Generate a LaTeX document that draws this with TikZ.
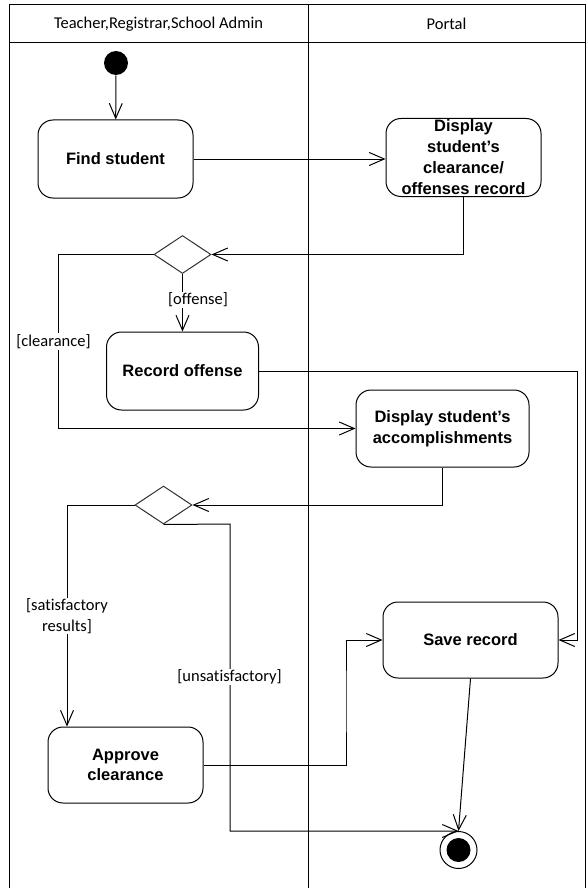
\documentclass[tikz,border=0pt]{standalone}
\usepackage{fontspec}
\setmainfont{Liberation Sans}
\newfontfamily\guardfont[Ligatures=CommonOff]{Carlito}
\usetikzlibrary{arrows.meta,shapes.geometric}

\tikzset{
    action/.style={draw, rounded corners=15pt, align=center, inner sep=0pt,
        font=\fontsize{16.5}{20.5}\selectfont\bfseries},
    decision/.style={draw=black!80, diamond, inner sep=0pt,
        minimum width=57pt, minimum height=38pt},
    guard/.style={fill=white, inner sep=1pt, align=center,
        font=\guardfont\fontsize{16.5}{20.5}\selectfont},
    lanetext/.style={font=\guardfont\fontsize{16.5}{20}\selectfont},
    flow/.style={-{Straight Barb[length=15pt,width=13pt]}},
}

\begin{document}
\begin{tikzpicture}[x=1pt,y=-1pt,line width=1pt]
    \useasboundingbox (0,0) rectangle (587,888);

    % swimlanes
    \draw (9,888) -- (9,5) -- (585.5,5) -- (585.5,888);
    \draw (9,43) -- (585.5,43);
    \draw (308,5) -- (308,888);
    \node[lanetext] (lane1) at (158.5,24) {Teacher,Registrar,School Admin};
    \node[lanetext] (lane2) at (446.5,24) {Portal};

    \node[circle, fill, minimum size=24pt, inner sep=0pt] (init) at (116,63) {};

    \node[action, minimum width=155pt, minimum height=78pt] (find) at (115.5,159) {Find student};
    \node[action, minimum width=155pt, minimum height=78pt,
        font=\fontsize{16.5}{21}\selectfont\bfseries] (record) at (463.5,157.5)
        {Display\\student's\\clearance/\\offenses record};
    \node[decision] (dec1) at (182.5,254.5) {};
    \node[action, minimum width=152pt, minimum height=78pt] (offense) at (182.5,371) {Record offense};
    \node[action, minimum width=173pt, minimum height=77pt] (accomp) at (442.5,428.5)
        {Display student's\\accomplishments};
    \node[decision] (dec2) at (163.5,505) {};
    \node[action, minimum width=175pt, minimum height=76pt] (save) at (470.5,640) {Save record};
    \node[action, minimum width=155pt, minimum height=76pt] (approve) at (125.5,765)
        {Approve\\clearance};
    \node[circle, draw, minimum size=37pt, inner sep=0pt] (final) at (458.5,850) {};
    \fill (final.center) circle (12pt);

    \coordinate (clrturn) at (58,254.5);
    \coordinate (offturn) at (577,371);
    \coordinate (satturn) at (67,505);
    \coordinate (unsturn) at (230,524);
    \coordinate (appturn) at (346,700);

    \draw[flow] (init) -- (find);
    \draw[flow] (find) -- (find -| record.west);
    \draw[flow] (record.south) |- (dec1.east);
    \draw[flow] (dec1.south) -- (offense.north);
    \draw[flow] (dec1.west) -- (clrturn) |- (accomp.west);
    \draw[flow] (offense.east) -- (offturn) |- (save.east);
    \draw[flow] (accomp.south) |- (dec2.east);
    \draw[flow] (dec2.west) -- (satturn) -- (satturn |- approve.north);
    \draw[flow] (dec2.south) -- (unsturn) |- (final.north);
    \draw[flow] (approve.east) -| (appturn) |- (save.west);
    \draw[flow] (save.south) -- (final.north);

    \node[guard] (gOffense) at (198,300) {[offense]};
    \node[guard] (gClear) at (53.5,341.5) {[clearance]};
    \node[guard] (gSatis) at (67,616) {[satisfactory\\results]};
    \node[guard] (gUnsat) at (229.5,677) {[unsatisfactory]};
\end{tikzpicture}
\end{document}
